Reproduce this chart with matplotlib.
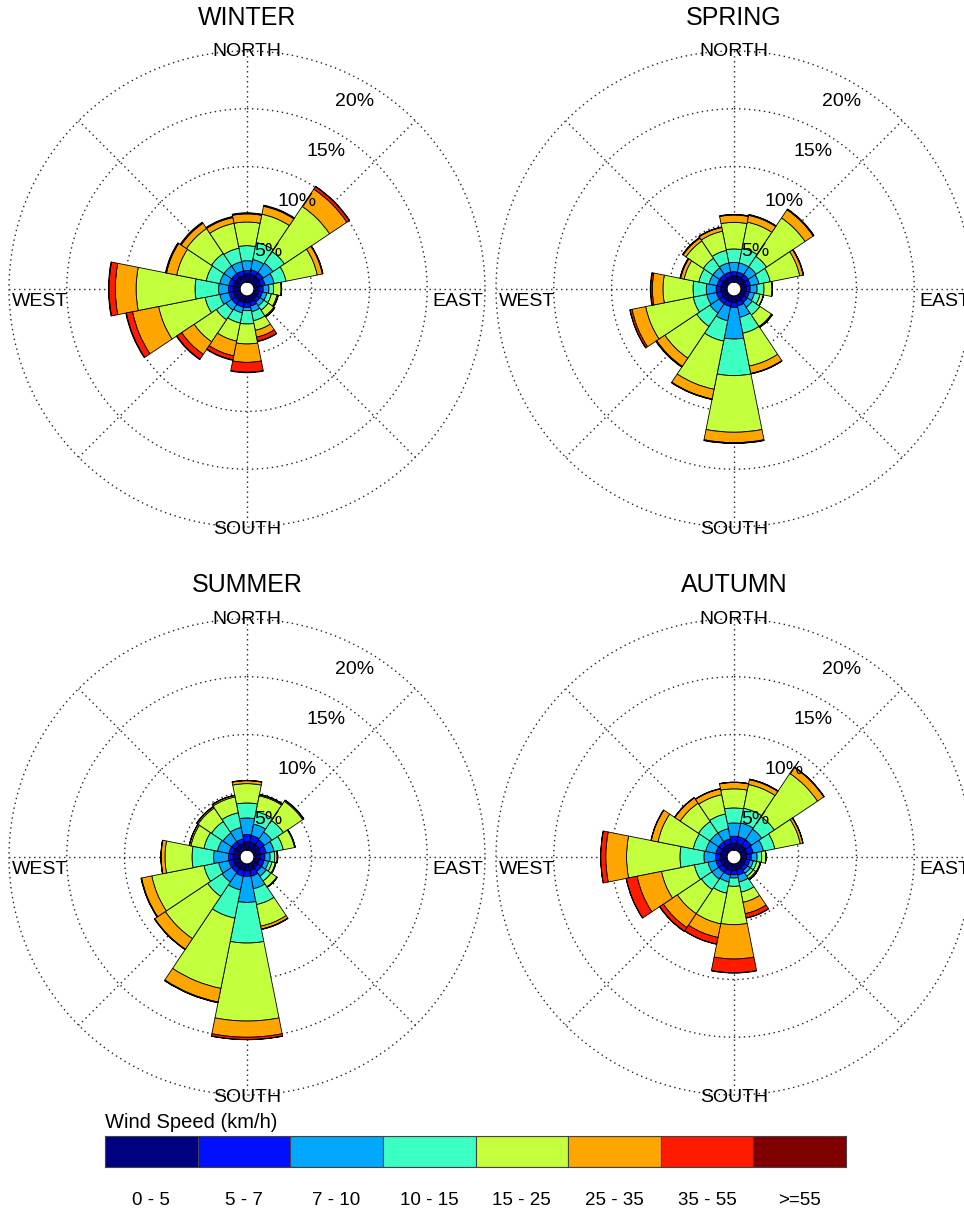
import numpy as np
import matplotlib
matplotlib.use('Agg')
import matplotlib.pyplot as plt

plt.rcParams['font.family'] = ['Liberation Sans', 'DejaVu Sans']

DIRECTIONS = ['N', 'NNE', 'NE', 'ENE', 'E', 'ESE', 'SE', 'SSE',
              'S', 'SSW', 'SW', 'WSW', 'W', 'WNW', 'NW', 'NNW']
SPEED_BINS = ['0 - 5', '5 - 7', '7 - 10', '10 - 15', '15 - 25', '25 - 35', '35 - 55', '>=55']
BIN_COLORS = ['#000080', '#0010FF', '#00A8FF', '#3CFFC3', '#C3FF3C', '#FFA500', '#FF1A00', '#800000']
SEASONS = ['WINTER', 'SPRING', 'SUMMER', 'AUTUMN']
RING_VALUES = [5, 10, 15, 20]
RING_LABELS = ['5%', '10%', '15%', '20%']
COMPASS = ['NORTH', 'EAST', 'SOUTH', 'WEST']
LEGEND_TITLE = 'Wind Speed (km/h)'

# frequency (%) per direction (rows, N clockwise) and speed bin (columns)
WINTER = [
    [.70, .30, .85, 1.30, 2.05, .70, .05, .05],
    [.70, .40, .90, 1.50, 2.50, .70, .05, .05],
    [.70, .40, 1.00, 1.20, 4.70, 1.80, .25, .05],
    [.60, .40, .80, 1.05, 2.75, .45, .05, .00],
    [.50, .30, .50, .40, .65, .05, .00, .00],
    [.45, .30, .40, .40, .50, .10, .00, .00],
    [.45, .30, .40, .45, .60, .10, .00, .00],
    [.55, .35, .50, .80, .85, .60, .35, .05],
    [.60, .40, .28, 1.15, 1.73, 1.59, .85, .05],
    [.60, .40, .50, .90, 1.60, 1.30, .35, .05],
    [.60, .40, .60, 1.00, 2.30, 1.30, .50, .06],
    [.60, .40, .80, 1.30, 4.10, 2.30, .55, .05],
    [.60, .40, .86, 2.04, 5.10, 1.80, .55, .05],
    [.60, .40, .80, 1.20, 2.60, .90, .05, .05],
    [.60, .40, .80, 1.30, 2.60, .55, .05, .06],
    [.60, .40, .80, 1.20, 2.20, .50, .05, .05],
]
SPRING = [
    [.55, .35, .80, 1.17, 2.30, .63, .04, .01],
    [.55, .35, .80, 1.30, 2.30, .60, .05, .03],
    [.55, .35, .80, 1.10, 4.00, .85, .05, .04],
    [.50, .35, .75, 1.00, 2.60, .30, .03, .02],
    [.50, .30, .60, .60, .70, .02, .00, .00],
    [.45, .30, .45, .50, .30, .00, .00, .00],
    [.45, .35, .50, .80, 1.20, .08, .02, .00],
    [.50, .40, 1.00, 1.40, 2.90, .65, .03, .02],
    [.60, .40, 2.73, 3.17, 4.90, .90, .05, .03],
    [.55, .40, 1.25, 1.80, 4.25, .85, .03, .03],
    [.55, .40, .95, 1.40, 3.30, .85, .05, .05],
    [.55, .40, .85, 1.20, 4.20, 1.20, .17, .03],
    [.55, .40, .85, 1.15, 2.60, .92, .13, .05],
    [.50, .40, .70, .90, 1.30, .30, .05, .02],
    [.50, .40, .70, 1.00, 1.80, .30, .05, .02],
    [.50, .40, .80, 1.10, 1.70, .33, .03, .02],
]
SUMMER = [
    [.70, .64, 1.44, 1.30, 1.67, .25, .02, .01],
    [.70, .60, 1.00, 1.10, 1.40, .10, .02, .01],
    [.70, .50, .80, 1.20, 2.00, .10, .02, .01],
    [.60, .50, .70, .80, 1.00, .05, .00, .00],
    [.55, .40, .45, .40, .20, .06, .00, .00],
    [.50, .40, .40, .30, .30, .05, .00, .00],
    [.50, .40, .50, .50, .60, .05, .00, .00],
    [.60, .50, 1.10, 1.40, 1.90, .25, .03, .02],
    [.60, .48, 2.25, 3.52, 6.75, 1.40, .20, .02],
    [.60, .50, 1.20, 2.50, 6.20, 1.20, .05, .02],
    [.60, .40, 1.00, 1.50, 4.40, 1.10, .03, .02],
    [.60, .40, .90, 1.30, 4.60, .90, .04, .02],
    [.60, .40, 1.29, 1.87, 2.34, .33, .02, .01],
    [.60, .40, 1.00, 1.20, 1.15, .13, .02, .00],
    [.60, .40, .90, 1.20, 1.40, .12, .03, .00],
    [.60, .40, 1.00, 1.30, 1.40, .13, .02, .00],
]
AUTUMN = [
    [.60, .60, 1.15, 1.30, 1.65, .55, .02, .01],
    [.60, .60, 1.20, 1.30, 2.10, .42, .04, .02],
    [.60, .60, 1.10, 1.30, 4.50, .65, .03, .02],
    [.55, .55, .90, 1.00, 2.25, .22, .02, .01],
    [.50, .40, .50, .40, .35, .02, .00, .00],
    [.45, .35, .30, .30, .30, .05, .00, .00],
    [.45, .35, .30, .30, .25, .10, .02, .00],
    [.55, .45, .60, .90, .90, 1.00, .38, .02],
    [.60, .35, .27, .72, 3.32, 2.97, 1.19, .03],
    [.60, .40, .60, 1.00, 2.70, 1.20, .58, .03],
    [.60, .40, .70, 1.10, 2.50, 1.45, .37, .04],
    [.60, .40, .70, 1.20, 2.90, 2.15, .95, .03],
    [.60, .40, 1.00, 2.08, 4.62, 1.80, .43, .02],
    [.60, .40, .90, 1.10, 3.10, .60, .02, .01],
    [.60, .40, .90, 1.20, 1.90, .55, .03, .02],
    [.60, .40, .90, 1.30, 1.70, .50, .02, .02],
]
SEASON_DATA = [WINTER, SPRING, SUMMER, AUTUMN]

W, H = 964, 1228
fig = plt.figure(figsize=(W / 100, H / 100), dpi=100)

R = 238.0
CENTERS = [(247, 289), (734, 289), (247, 857), (734, 857)]
TITLE_Y = [18, 18, 585, 585]
HOLE = 0.6
RMAX = 20
DOT = dict(color='#222222', lw=1.0, linestyle=(0, (1, 2.6)), clip_on=False)

n = len(DIRECTIONS)
theta = np.arange(n) * 2 * np.pi / n
width = 2 * np.pi / n

for name, data, (cx, cy), ty in zip(SEASONS, SEASON_DATA, CENTERS, TITLE_Y):
    ax = fig.add_axes([(cx - R) / W, (H - cy - R) / H, 2 * R / W, 2 * R / H],
                      projection='polar')
    ax.set_theta_zero_location('N')
    ax.set_theta_direction(-1)
    ax.set_ylim(0, RMAX)
    ax.set_rorigin(-HOLE)
    ax.grid(False)
    ax.set_xticks([])
    ax.set_yticks([])
    ax.spines['polar'].set_visible(False)
    ax.patch.set_alpha(0)

    # grid: circles and radial lines
    tt = np.linspace(0, 2 * np.pi, 400)
    for rv in RING_VALUES:
        ax.plot(tt, np.full_like(tt, rv), zorder=1, **DOT)
    for a in np.arange(8) * np.pi / 4:
        ax.plot([a, a], [0, RMAX], zorder=1, **DOT)

    arr = np.array(data)
    bottom = np.zeros(n)
    for k in range(arr.shape[1]):
        ax.bar(theta, arr[:, k], width=width, bottom=bottom, color=BIN_COLORS[k],
               edgecolor='black', linewidth=0.6, zorder=2)
        bottom = bottom + arr[:, k]

    for rv, lab in zip(RING_VALUES, RING_LABELS):
        ax.text(np.deg2rad(30), rv - 1.9, lab, fontsize=14, ha='center', va='center',
                zorder=5, clip_on=False)

    ax.text(0, RMAX, COMPASS[0], fontsize=14, ha='center', va='center', zorder=5, clip_on=False)
    ax.annotate(COMPASS[2], (np.pi, RMAX), xytext=(0, -2), textcoords='offset points',
                fontsize=14, ha='center', va='center', zorder=5, annotation_clip=False)
    ax.annotate(COMPASS[1], (np.pi / 2, RMAX), xytext=(-1, -3), textcoords='offset points',
                fontsize=14, ha='right', va='top', zorder=5, annotation_clip=False)
    ax.annotate(COMPASS[3], (3 * np.pi / 2, RMAX), xytext=(2, -3), textcoords='offset points',
                fontsize=14, ha='left', va='top', zorder=5, annotation_clip=False)

    fig.text(cx / W, 1 - ty / H, name, fontsize=18, ha='center', va='center')

# legend colour bar
lx0, lx1, ly0, ly1 = 105, 846, 1136, 1167
cax = fig.add_axes([lx0 / W, 1 - ly1 / H, (lx1 - lx0) / W, (ly1 - ly0) / H])
pos = np.arange(len(SPEED_BINS))
cax.bar(pos, np.ones(len(SPEED_BINS)), width=1.0, color=BIN_COLORS,
        edgecolor='#444444', linewidth=0.8)
cax.set_xlim(-0.5, len(SPEED_BINS) - 0.5)
cax.set_ylim(0, 1)
cax.set_yticks([])
cax.set_xticks(pos)
cax.set_xticklabels(SPEED_BINS, fontsize=13.5)
cax.tick_params(axis='x', length=0, pad=18)
for s in cax.spines.values():
    s.set_edgecolor('#444444')
    s.set_linewidth(0.8)
fig.text(lx0 / W, 1 - 1123 / H, LEGEND_TITLE, fontsize=14.5, ha='left', va='center')

fig.savefig('out.png', dpi=100)
